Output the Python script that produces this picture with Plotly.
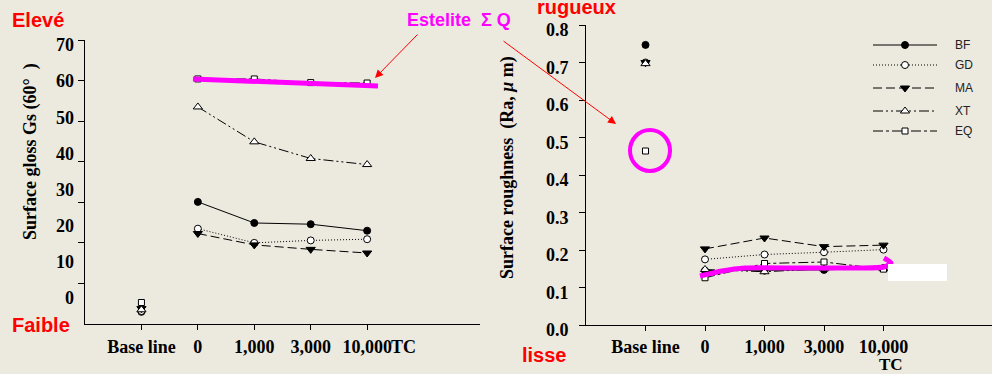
import plotly.graph_objects as go

W, H = 992, 374
BG = "#ECE9DF"
SERIF = "Liberation Serif"
SANS = "Liberation Sans"

# ---------------- data ----------------
series = ["BF", "GD", "MA", "XT", "EQ"]
stages = ["Base line", "0", "1,000", "3,000", "10,000"]
stage_unit = "TC"
stage_pos = [1, 2, 3, 4, 5]

gloss_BF = [3.0, 30.1, 24.9, 24.6, 23.0]
gloss_GD = [3.2, 23.5, 20.0, 20.6, 20.9]
gloss_MA = [3.8, 22.3, 19.5, 18.4, 17.5]
gloss_XT = [3.5, 53.5, 44.9, 40.8, 39.3]
gloss_EQ = [5.3, 60.4, 60.4, 59.5, 59.4]

rough_BF = [0.747, 0.145, 0.145, 0.147, 0.152]
rough_GD = [0.700, 0.175, 0.188, 0.194, 0.201]
rough_MA = [0.700, 0.203, 0.232, 0.209, 0.213]
rough_XT = [0.697, 0.148, 0.142, 0.150, 0.150]
rough_EQ = [0.464, 0.126, 0.164, 0.168, 0.149]

gloss_ticks = [0, 10, 20, 30, 40, 50, 60, 70]
rough_ticks = [0.0, 0.1, 0.2, 0.3, 0.4, 0.5, 0.6, 0.7, 0.8]

gloss = dict(zip(series, [gloss_BF, gloss_GD, gloss_MA, gloss_XT, gloss_EQ]))
rough = dict(zip(series, [rough_BF, rough_GD, rough_MA, rough_XT, rough_EQ]))

# ---------------- styles ----------------
style = {
    "BF": dict(symbol="circle", fill="black", size=7, dash="solid"),
    "GD": dict(symbol="circle", fill="white", size=7, dash="1px,2px"),
    "MA": dict(symbol="triangle-down", fill="black", size=8, dash="9px,4px"),
    "XT": dict(symbol="triangle-up", fill="white", size=8, dash="10px,3px,2px,3px,2px,3px"),
    "EQ": dict(symbol="square", fill="white", size=6, dash="10px,3px,3px,3px"),
}


def split(vals):
    xs = [stage_pos[0], None] + stage_pos[1:]
    ys = [vals[0], None] + list(vals[1:])
    return xs, ys


fig = go.Figure()

for xa, ya, data in (("x", "y", gloss), ("x2", "y2", rough)):
    for s in series:
        st = style[s]
        xs, ys = split(data[s])
        fig.add_trace(go.Scatter(
            x=xs, y=ys, xaxis=xa, yaxis=ya, mode="lines+markers",
            connectgaps=False, name=s, showlegend=False,
            line=dict(color="black", width=1, dash=st["dash"]),
            marker=dict(symbol=st["symbol"], size=st["size"], color=st["fill"],
                        line=dict(color="black", width=1)),
        ))

# dummy trace for the label-only overlay axis
fig.add_trace(go.Scatter(x=[None], y=[None], xaxis="x", yaxis="y4",
                         showlegend=False, hoverinfo="skip"))

# ---------------- pixel overlay (legend + decorations) ----------------
leg_rows = [45, 65, 88, 111, 131]
for s, ry in zip(series, leg_rows):
    st = style[s]
    fig.add_trace(go.Scatter(
        x=[873, 937], y=[ry, ry], xaxis="x3", yaxis="y3", mode="lines",
        line=dict(color="black", width=1, dash=st["dash"]),
        showlegend=False, hoverinfo="skip"))
    fig.add_trace(go.Scatter(
        x=[905], y=[ry], xaxis="x3", yaxis="y3", mode="markers",
        marker=dict(symbol=st["symbol"], size=st["size"], color=st["fill"],
                    line=dict(color="black", width=1)),
        showlegend=False, hoverinfo="skip"))

# magenta highlight curve on the roughness chart
hl_x = [700, 722, 745, 800, 860, 884, 891, 884]
hl_y = [276, 271, 268, 268, 268, 267, 263, 258]
fig.add_trace(go.Scatter(
    x=hl_x, y=hl_y, xaxis="x3", yaxis="y3", mode="lines",
    line=dict(color="#FF00FF", width=5, shape="spline", smoothing=0.6),
    showlegend=False, hoverinfo="skip"))

annotations = []
for s, ry in zip(series, leg_rows):
    annotations.append(dict(x=953, y=ry, xref="x3", yref="y3", text=s,
                            showarrow=False, xanchor="left", yanchor="middle",
                            font=dict(family=SANS, size=12, color="#222")))

red_texts = [("Elevé", 38, 20), ("Faible", 41, 325), ("rugueux", 576, 7), ("lisse", 544, 355)]
for t, x, y in red_texts:
    annotations.append(dict(x=x, y=y, xref="x3", yref="y3", text="<b>%s</b>" % t,
                            showarrow=False,
                            font=dict(family=SANS, size=20, color="#FF0000")))

annotations.append(dict(x=459, y=20, xref="x3", yref="y3",
                        text="<b>Estelite\u00a0\u00a0Σ\u00a0Q</b>", showarrow=False,
                        font=dict(family=SANS, size=18, color="#FF00FF")))

# unit "TC": appended on the left chart, on a second line on the right chart
annotations.append(dict(x=389, y=347, xref="x3", yref="y3", text="<b>%s</b>" % stage_unit,
                        showarrow=False, xanchor="left",
                        font=dict(family=SERIF, size=18, color="black")))
annotations.append(dict(x=891, y=364, xref="x3", yref="y3", text="<b>%s</b>" % stage_unit,
                        showarrow=False, borderpad=0,
                        font=dict(family=SERIF, size=17, color="black")))

annotations.append(dict(x=30, y=152, xref="x3", yref="y3", textangle=-90,
                        text="<b>Surface gloss Gs (60°\u00a0\u00a0)</b>", showarrow=False,
                        font=dict(family=SERIF, size=18, color="black")))
annotations.append(dict(x=507, y=168, xref="x3", yref="y3", textangle=-90,
                        text="<b>Surface roughness\u00a0\u00a0(Ra,\u00a0<i>μ</i>\u00a0m)</b>",
                        showarrow=False,
                        font=dict(family=SERIF, size=18, color="black")))

for (tx, ty, hx, hy) in [(419, 33, 375, 78), (502, 40, 616, 124)]:
    annotations.append(dict(x=hx, y=hy, xref="x3", yref="y3", ax=tx, ay=ty,
                            axref="x3", ayref="y3", text="", showarrow=True,
                            arrowhead=2, arrowsize=1.6, arrowwidth=1, arrowcolor="#FF0000"))

shapes = [
    dict(type="line", xref="x3", yref="y3", x0=193, y0=79, x1=378, y1=86,
         line=dict(color="#FF00FF", width=5)),
    dict(type="circle", xref="x3", yref="y3", x0=630, y0=130, x1=670, y1=171,
         line=dict(color="#FF00FF", width=4)),
    dict(type="rect", xref="x3", yref="y3", x0=888, y0=264, x1=947, y1=281,
         fillcolor="white", line=dict(width=0)),
]

tickfont = dict(family=SERIF, size=18, color="black", weight="bold")
left_dom_y = [1 - 324 / H, 1 - 40 / H]
right_dom_y = [1 - 325 / H, 1 - 25 / H]

fig.update_layout(
    width=W, height=H, margin=dict(l=0, r=0, t=0, b=0, autoexpand=False),
    paper_bgcolor=BG, plot_bgcolor="rgba(0,0,0,0)",
    showlegend=False,
    xaxis=dict(domain=[85 / W, 480 / W], range=[0, 7], anchor="y", automargin=False,
               tickvals=stage_pos, ticktext=stages, ticks="outside", ticklen=5,
               tickangle=0, tickcolor="black", showline=True, linecolor="black",
               linewidth=1, showgrid=False, zeroline=False, tickfont=tickfont,
               ticklabelstandoff=1, fixedrange=True),
    yaxis=dict(domain=left_dom_y, range=[0, 70], anchor="x", automargin=False,
               tickvals=gloss_ticks[1:], ticks="outside", ticklen=6, tickcolor="black",
               showticklabels=False, showline=True, linecolor="black", linewidth=1,
               showgrid=False, zeroline=False, fixedrange=True),
    yaxis4=dict(overlaying="y", anchor="x", side="left", range=[-7.19, 71.38],
                automargin=False, tickvals=gloss_ticks, ticks="", showline=False,
                showgrid=False, zeroline=False, tickfont=tickfont, ticklabelstandoff=10,
                fixedrange=True),
    xaxis2=dict(domain=[586 / W, 1.0], range=[0, 406 / 59.5], anchor="y2", automargin=False,
                tickvals=stage_pos, ticktext=stages, ticks="outside", ticklen=5,
                tickangle=0, tickcolor="black", showline=True, linecolor="black",
                linewidth=1, showgrid=False, zeroline=False, tickfont=tickfont,
                ticklabelstandoff=0, fixedrange=True),
    yaxis2=dict(domain=right_dom_y, range=[0, 0.8], anchor="x2", automargin=False,
                tickvals=rough_ticks, tickformat=".1f", ticks="outside", ticklen=6,
                tickcolor="black", showline=True, linecolor="black", linewidth=1,
                showgrid=False, zeroline=False, tickfont=tickfont, ticklabelstandoff=7,
                ticklabelshift=5, fixedrange=True),
    xaxis3=dict(domain=[0, 1], range=[0, W], anchor="y3", visible=False, fixedrange=True),
    yaxis3=dict(domain=[0, 1], range=[H, 0], anchor="x3", visible=False, fixedrange=True),
    annotations=annotations,
    shapes=shapes,
)

fig.write_html("out.html")
